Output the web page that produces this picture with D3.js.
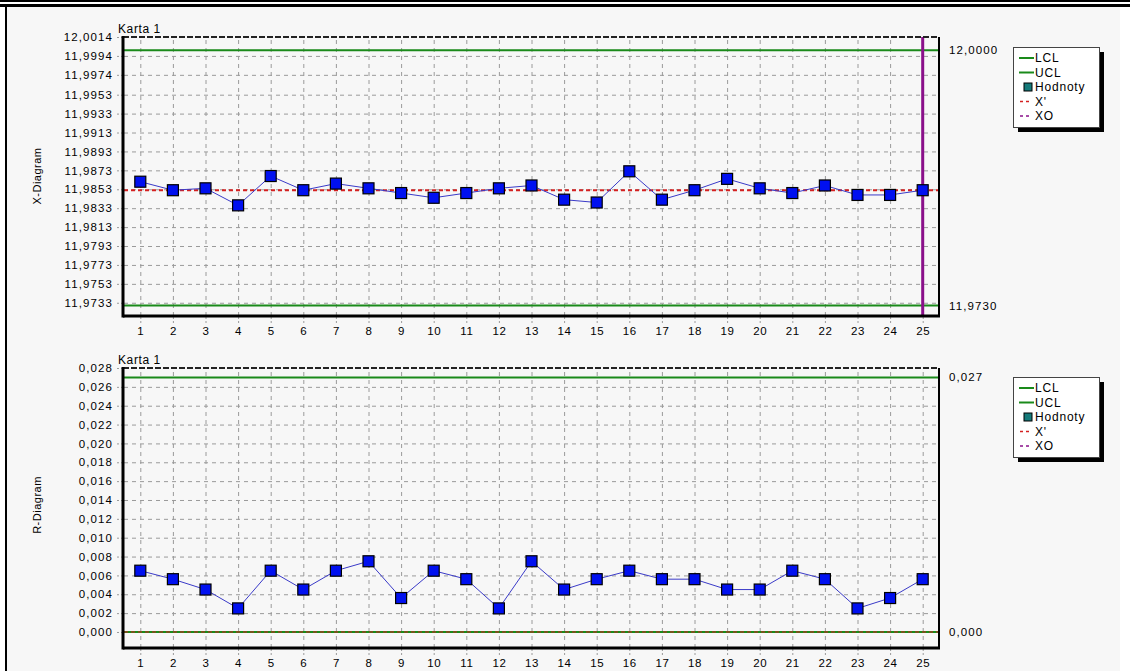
<!DOCTYPE html>
<html>
<head>
<meta charset="utf-8">
<script src="https://cdn.jsdelivr.net/npm/d3@7"></script>
<style>
  body { margin: 0; background: #fff; }
  text { font-family: "Liberation Sans", Arial, sans-serif; fill: #000; }
</style>
</head>
<body>
<svg id="chart" width="1130" height="671"></svg>
<script>
// Sample numbers (subgroups)
const samples = [1, 2, 3, 4, 5, 6, 7, 8, 9, 10, 11, 12, 13, 14, 15, 16, 17, 18, 19, 20, 21, 22, 23, 24, 25];

// X-diagram: subgroup means
const xMeans = [11.9861, 11.9852, 11.9854, 11.9836, 11.9867, 11.9852, 11.9859, 11.9854, 11.9849, 11.9844,
                11.9849, 11.9854, 11.9857, 11.9842, 11.9839, 11.9872, 11.9842, 11.9852, 11.9864, 11.9854,
                11.9849, 11.9857, 11.9847, 11.9847, 11.9852];
const xTickValues = [11.9733, 11.9753, 11.9773, 11.9793, 11.9813, 11.9833, 11.9853, 11.9873,
                     11.9893, 11.9913, 11.9933, 11.9953, 11.9974, 11.9994, 12.0014];
const xDomain = [11.9719, 12.0014];
const xLCL = 11.9730, xUCL = 12.0000, xCenter = 11.9852;
const xCurrent = 25;

// R-diagram: subgroup ranges
const rRanges = [0.0065, 0.0056, 0.0045, 0.0025, 0.0065, 0.0045, 0.0065, 0.0075, 0.0036, 0.0065,
                 0.0056, 0.0025, 0.0075, 0.0045, 0.0056, 0.0065, 0.0056, 0.0056, 0.0045, 0.0045,
                 0.0065, 0.0056, 0.0025, 0.0036, 0.0056];
const rTickValues = [0.000, 0.002, 0.004, 0.006, 0.008, 0.010, 0.012, 0.014,
                     0.016, 0.018, 0.020, 0.022, 0.024, 0.026, 0.028];
const rDomain = [-0.0017, 0.028];
const rLCL = 0.000, rUCL = 0.027, rCenter = 0.000;

const legendNames = ["LCL", "UCL", "Hodnoty", "X'", "XO"];

// ---- styling ----
const GREEN = "#1a8a1a", RED = "#d42020", PURPLE = "#8a108a";
const BLUE = "#0010f0", LINE_BLUE = "#3a3ac8", GRID = "#9a9a9a";
const legendStyle = {
  "LCL":     { kind: "line", color: GREEN },
  "UCL":     { kind: "line", color: GREEN },
  "Hodnoty": { kind: "box",  color: "#157a7a" },
  "X'":      { kind: "dash", color: RED },
  "XO":      { kind: "dash", color: PURPLE }
};

const svg = d3.select("#chart");

// window frame
svg.append("rect").attr("x", 7).attr("y", 7).attr("width", 1113).attr("height", 664).attr("fill", "#f7f7f7");
svg.append("rect").attr("x", 0).attr("y", 0).attr("width", 1130).attr("height", 2).attr("fill", "#000");
svg.append("rect").attr("x", 0).attr("y", 4).attr("width", 1130).attr("height", 3).attr("fill", "#000");
svg.append("rect").attr("x", 5).attr("y", 7).attr("width", 2).attr("height", 664).attr("fill", "#000");

const PL = 124, PR = 939;
const x = d3.scaleLinear().domain([0.5, 25.5]).range([PL, PR]);

function fmt2(v, f) { return d3.format(f)(v).replace(".", ","); }

function drawDiagram(o) {
  const y = d3.scaleLinear().domain(o.domain).range([o.bottom, o.top]);
  const g = svg.append("g");
  const fmt = v => fmt2(v, o.fmt);

  // horizontal grid
  g.append("g").attr("transform", `translate(${PL},0)`)
    .call(d3.axisLeft(y).tickValues(o.ticks).tickSizeInner(-(PR - PL)).tickSizeOuter(0).tickFormat(""))
    .call(s => s.select(".domain").remove())
    .call(s => s.selectAll("line").attr("stroke", GRID).attr("stroke-dasharray", "4,4"));

  // vertical grid
  g.append("g").attr("transform", `translate(0,${o.bottom})`)
    .call(d3.axisBottom(x).tickValues(samples).tickSizeInner(-(o.bottom - o.top)).tickSizeOuter(0).tickFormat(""))
    .call(s => s.select(".domain").remove())
    .call(s => s.selectAll("line").attr("stroke", GRID).attr("stroke-dasharray", "4,4"));

  // y axis labels
  g.append("g").attr("transform", `translate(${PL - 1},0)`)
    .call(d3.axisLeft(y).tickValues(o.ticks).tickSize(8).tickPadding(2).tickFormat(fmt))
    .call(s => s.select(".domain").remove())
    .call(s => s.selectAll("line").attr("stroke", GRID).attr("stroke-dasharray", "2,2"))
    .call(s => s.selectAll("text").attr("font-size", 11.5).attr("letter-spacing", 1.1)
      .style("font-family", "'Liberation Sans', Arial, sans-serif").attr("fill", "#000"));

  // x axis labels
  g.append("g").attr("transform", `translate(0,${o.bottom + 1})`)
    .call(d3.axisBottom(x).tickValues(samples).tickSize(6).tickPadding(4))
    .call(s => s.select(".domain").remove())
    .call(s => s.selectAll("line").attr("stroke", GRID).attr("stroke-dasharray", "2,2"))
    .call(s => s.selectAll("text").attr("font-size", 11.5).attr("letter-spacing", 0.6)
      .style("font-family", "'Liberation Sans', Arial, sans-serif").attr("fill", "#000"));

  // control limits
  [o.ucl, o.lcl].forEach(v => {
    g.append("line").attr("x1", PL).attr("x2", PR).attr("y1", y(v)).attr("y2", y(v))
      .attr("stroke", GREEN).attr("stroke-width", 2);
  });
  // centre line
  g.append("line").attr("x1", PL).attr("x2", PR).attr("y1", y(o.center)).attr("y2", y(o.center))
    .attr("stroke", RED).attr("stroke-width", o.centerWidth).attr("stroke-dasharray", "4,3");

  // current sample marker
  if (o.current != null) {
    g.append("line").attr("x1", x(o.current)).attr("x2", x(o.current)).attr("y1", o.top).attr("y2", o.bottom)
      .attr("stroke", PURPLE).attr("stroke-width", 3);
  }

  // frame
  g.append("line").attr("x1", PL - 1).attr("x2", PR).attr("y1", o.top).attr("y2", o.top)
    .attr("stroke", "#222").attr("stroke-width", 2).attr("stroke-dasharray", "6,2");
  g.append("line").attr("x1", PR).attr("x2", PR).attr("y1", o.top).attr("y2", o.bottom + 1)
    .attr("stroke", "#000").attr("stroke-width", 2);
  g.append("line").attr("x1", PL - 1).attr("x2", PR + 1).attr("y1", o.bottom).attr("y2", o.bottom)
    .attr("stroke", "#000").attr("stroke-width", 3);
  g.append("line").attr("x1", PL - 1).attr("x2", PL - 1).attr("y1", o.top - 1).attr("y2", o.bottom + 1.5)
    .attr("stroke", "#000").attr("stroke-width", 3);

  // values
  const line = d3.line().x((d, i) => x(samples[i])).y(d => y(d));
  g.append("path").datum(o.values).attr("d", line)
    .attr("fill", "none").attr("stroke", LINE_BLUE).attr("stroke-width", 1);
  g.selectAll("rect.pt").data(o.values).join("rect").attr("class", "pt")
    .attr("x", (d, i) => x(samples[i]) - 5.5).attr("y", d => y(d) - 5.5)
    .attr("width", 11).attr("height", 11)
    .attr("fill", BLUE).attr("stroke", "#000").attr("stroke-width", 1.2);

  // titles
  g.append("text").attr("x", PL - 6).attr("y", o.top - 4).attr("font-size", 12).attr("letter-spacing", 0.6)
    .text("Karta 1");
  g.append("text").attr("transform", `translate(41,${o.titleY}) rotate(-90)`)
    .attr("text-anchor", "middle").attr("font-size", 11).attr("letter-spacing", 0.5).text(o.title);

  // limit values at the right
  [o.ucl, o.lcl].forEach(v => {
    g.append("text").attr("x", 949).attr("y", y(v)).attr("dy", "0.35em")
      .attr("font-size", 11.5).attr("letter-spacing", 1.1).text(fmt2(v, o.limFmt));
  });

  // legend
  const lg = g.append("g").attr("transform", `translate(1013,${o.legendTop})`);
  lg.append("rect").attr("x", 5).attr("y", 5).attr("width", 86).attr("height", 80).attr("fill", "#000");
  lg.append("rect").attr("x", 0.5).attr("y", 0.5).attr("width", 86).attr("height", 80)
    .attr("fill", "#fff").attr("stroke", "#444");
  legendNames.forEach((name, i) => {
    const cy = 11 + i * 14.5;
    const st = legendStyle[name];
    if (st.kind === "box") {
      lg.append("rect").attr("x", 11).attr("y", cy - 4).attr("width", 8).attr("height", 8)
        .attr("fill", st.color).attr("stroke", "#000");
    } else if (st.kind === "line") {
      lg.append("line").attr("x1", 6).attr("x2", 21).attr("y1", cy).attr("y2", cy)
        .attr("stroke", st.color).attr("stroke-width", 2);
    } else {
      lg.append("line").attr("x1", 7).attr("x2", 19).attr("y1", cy).attr("y2", cy)
        .attr("stroke", st.color).attr("stroke-width", 1.3).attr("stroke-dasharray", "3,3");
    }
    lg.append("text").attr("x", 22).attr("y", cy).attr("dy", "0.36em")
      .attr("font-size", 12).attr("letter-spacing", 0.8).text(name);
  });
}

drawDiagram({
  top: 37, bottom: 316, domain: xDomain, ticks: xTickValues, fmt: ".4f", limFmt: ".4f",
  values: xMeans, ucl: xUCL, lcl: xLCL, center: xCenter, centerWidth: 2,
  current: xCurrent, title: "X-Diagram", titleY: 176, legendTop: 47
});

drawDiagram({
  top: 368, bottom: 648, domain: rDomain, ticks: rTickValues, fmt: ".3f", limFmt: ".3f",
  values: rRanges, ucl: rUCL, lcl: rLCL, center: rCenter, centerWidth: 1,
  current: null, title: "R-Diagram", titleY: 505, legendTop: 377
});
</script>
</body>
</html>
